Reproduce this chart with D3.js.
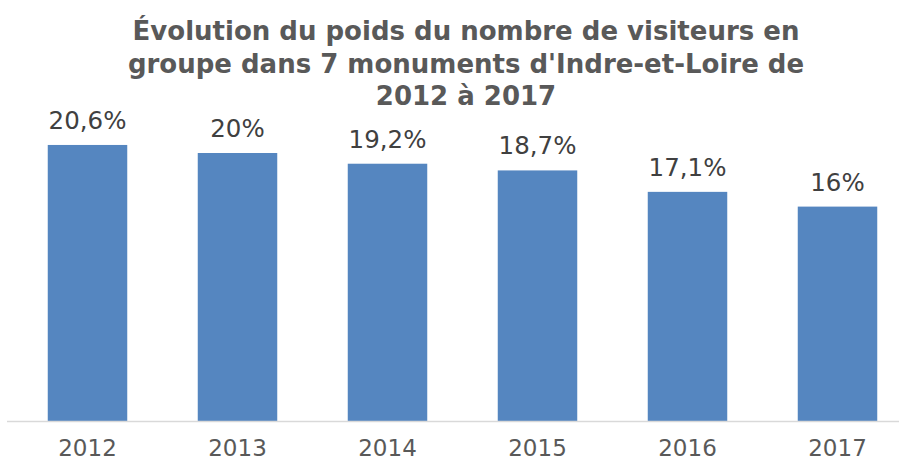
<!DOCTYPE html>
<html>
<head>
<meta charset="utf-8">
<script src="https://cdn.jsdelivr.net/npm/d3@7"></script>
<style>
  body { margin: 0; background: #fff; }
  svg { display: block; }
  .title { font-family: "DejaVu Sans", sans-serif; font-weight: bold; fill: #595959; }
  .lbl { font-family: "DejaVu Sans", sans-serif; fill: #404040; }
  .tick text { font-family: "DejaVu Sans", sans-serif; fill: #595959; }
</style>
</head>
<body>
<svg></svg>
<script>
// Data
const years = ["2012", "2013", "2014", "2015", "2016", "2017"];
const shares = [20.6, 20, 19.2, 18.7, 17.1, 16];
const valueLabels = ["20,6%", "20%", "19,2%", "18,7%", "17,1%", "16%"];
const titleLines = [
  "Évolution du poids du nombre de visiteurs en",
  "groupe dans 7 monuments d'Indre-et-Loire de",
  "2012 à 2017"
];

const W = 899, H = 464;
const baseline = 421;

const svg = d3.select("svg")
    .attr("width", W)
    .attr("height", H);

// Scales
const x = d3.scaleBand()
    .domain(years)
    .range([12.5, 912.5])
    .paddingInner(0.47)
    .paddingOuter(0.235);

const y = d3.scaleLinear()
    .domain([0, 21])
    .range([baseline, baseline - 13.4 * 21]);

// Title
svg.append("g")
  .selectAll("text")
  .data(titleLines)
  .enter()
  .append("text")
    .attr("class", "title")
    .attr("x", 466)
    .attr("y", (d, i) => 40 + i * 32.5)
    .attr("text-anchor", "middle")
    .attr("font-size", 26)
    .text(d => d);

// Bars
svg.selectAll("rect.bar")
  .data(shares)
  .enter()
  .append("rect")
    .attr("class", "bar")
    .attr("x", (d, i) => x(years[i]))
    .attr("y", d => y(d))
    .attr("width", x.bandwidth())
    .attr("height", d => y(0) - y(d))
    .attr("fill", "#5586c0");

// Value labels
svg.selectAll("text.lbl")
  .data(shares)
  .enter()
  .append("text")
    .attr("class", "lbl")
    .attr("x", (d, i) => x(years[i]) + x.bandwidth() / 2)
    .attr("y", d => y(d) - 16)
    .attr("text-anchor", "middle")
    .attr("font-size", 24.5)
    .text((d, i) => valueLabels[i]);

// X axis
const xAxis = svg.append("g")
    .attr("transform", `translate(0,${baseline})`)
    .call(d3.axisBottom(x).tickSize(0).tickPadding(19));
xAxis.select(".domain").remove();
xAxis.append("line")
    .attr("x1", 7).attr("x2", W)
    .attr("y1", 0.5).attr("y2", 0.5)
    .attr("stroke", "#d9d9d9")
    .attr("stroke-width", 1.5);
xAxis.selectAll(".tick text")
    .attr("font-size", 23);
</script>
</body>
</html>
